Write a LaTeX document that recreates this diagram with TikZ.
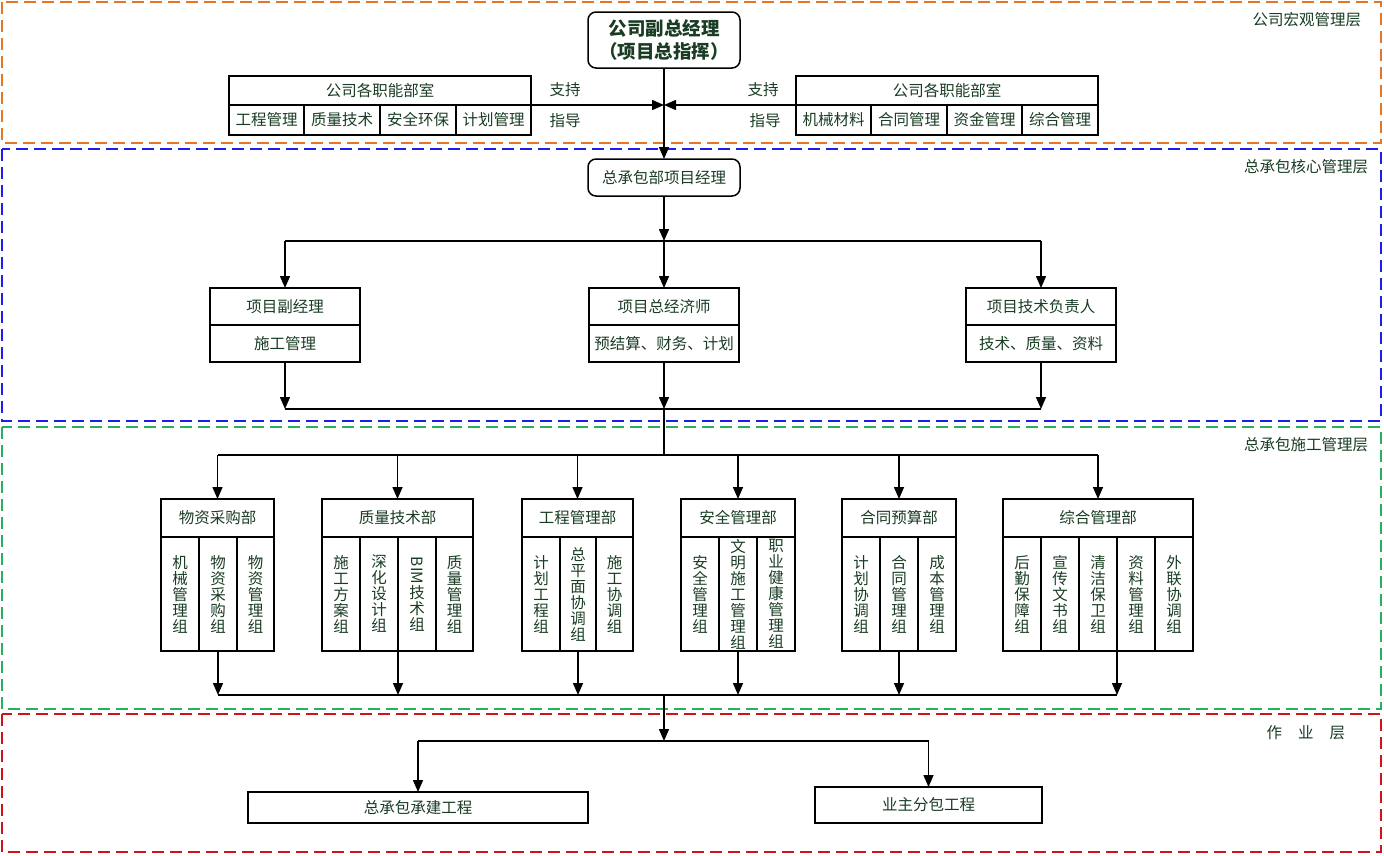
\documentclass[tikz,border=0pt]{standalone}
\usepackage{graphicx}
\usepackage{fontspec}
\setmainfont{Noto Sans CJK SC}
\usetikzlibrary{arrows.meta}
\definecolor{txt}{RGB}{25,60,35}
\definecolor{lorange}{RGB}{228,118,40}
\definecolor{lblue}{RGB}{30,30,235}
\definecolor{lgreen}{RGB}{40,175,95}
\definecolor{lred}{RGB}{205,20,25}
\newcommand\myfs{\fontsize{15.5}{16}\selectfont}
\newcommand\mytitlefs{\fontsize{18.5}{23}\selectfont}
\begin{document}
\begin{tikzpicture}[x=1pt,y=-1pt,
  every node/.style={text=txt, font=\myfs, inner sep=0pt, outer sep=0pt},
  box/.style={draw=black, line width=1.5pt, anchor=north west, align=center},
  rbox/.style={box, rounded corners=8pt},
  hdr/.style={box, minimum height=38pt},
  col/.style={box, minimum width=38pt, minimum height=114pt},
  conn/.style={draw=black, line width=1.5pt, -{Triangle[length=12pt,width=10pt]}},
  bus/.style={draw=black, line width=1.5pt},
  layer/.style={line width=2pt, dash pattern=on 12pt off 6pt},
  lab/.style={anchor=east}]
\useasboundingbox (0,0) rectangle (1384,855);
% layers
\draw[layer, lorange] (2,2) rectangle (1381,143);
\draw[layer, lblue] (2,149) rectangle (1381,421);
\draw[layer, lgreen] (2,427) rectangle (1381,709);
\draw[layer, lred] (2,714) rectangle (1381,852);
\node[lab] (L1) at (1361,20) {公司宏观管理层};
\node[lab] (L2) at (1368,167) {总承包核心管理层};
\node[lab] (L3) at (1368,445) {总承包施工管理层};
\node[lab] (L4) at (1345,733) {作\hspace{16pt}业\hspace{16pt}层};
% top
\node[rbox, minimum width=152pt, minimum height=56pt, font=\bfseries\mytitlefs] (gm) at (588,12) {公司副总经理\\（项目总指挥）};
\node[box, minimum width=302pt, minimum height=29pt] (lh) at (229,76) {公司各职能部室};
\node[box, minimum width=75pt, minimum height=30pt] (l1) at (229,105) {工程管理};
\node[box, minimum width=76pt, minimum height=30pt] (l2) at (304,105) {质量技术};
\node[box, minimum width=76pt, minimum height=30pt] (l3) at (380,105) {安全环保};
\node[box, minimum width=75pt, minimum height=30pt] (l4) at (456,105) {计划管理};
\node[box, minimum width=302pt, minimum height=29pt] (rh) at (796,76) {公司各职能部室};
\node[box, minimum width=75pt, minimum height=30pt] (r1) at (796,105) {机械材料};
\node[box, minimum width=76pt, minimum height=30pt] (r2) at (871,105) {合同管理};
\node[box, minimum width=75pt, minimum height=30pt] (r3) at (947,105) {资金管理};
\node[box, minimum width=76pt, minimum height=30pt] (r4) at (1022,105) {综合管理};
\node (s1) at (565,90) {支持};
\node (g1) at (565,121) {指导};
\node (s2) at (763,90) {支持};
\node (g2) at (765,121) {指导};
\coordinate (jn) at (664,105);
\draw[conn] (l4.north east) -- (jn);
\draw[conn] (r1.north west) -- (jn);
% core
\node[rbox, minimum width=152pt, minimum height=37pt] (pm) at (588,159) {总承包部项目经理};
\draw[conn] (gm.south) -- (pm.north);
\coordinate (a0) at (664,241);
\coordinate (aL) at (285,241);
\coordinate (aR) at (1041,241);
\draw[conn] (pm.south) -- (a0);
\draw[bus] (aL) -- (aR);
\node[box, minimum width=150pt, minimum height=37pt] (m1t) at (210,288) {项目副经理};
\node[box, minimum width=150pt, minimum height=37pt] (m1b) at (210,325) {施工管理};
\node[box, minimum width=150pt, minimum height=37pt] (m2t) at (589,288) {项目总经济师};
\node[box, minimum width=150pt, minimum height=37pt] (m2b) at (589,325) {预结算、财务、计划};
\node[box, minimum width=150pt, minimum height=37pt] (m3t) at (966,288) {项目技术负责人};
\node[box, minimum width=150pt, minimum height=37pt] (m3b) at (966,325) {技术、质量、资料};
\draw[conn] (aL) -- (m1t.north);
\draw[conn] (a0) -- (m2t.north);
\draw[conn] (aR) -- (m3t.north);
\coordinate (bL) at (285,409);
\coordinate (bM) at (664,409);
\coordinate (bR) at (1041,409);
\draw[conn] (m1b.south) -- (bL);
\draw[conn] (m2b.south) -- (bM);
\draw[conn] (m3b.south) -- (bR);
\draw[bus] (bL) -- (bR);
% construction
\coordinate (c0) at (664,455);
\coordinate (cL) at (218,455);
\coordinate (cR) at (1098,455);
\draw[bus] (bM) -- (c0);
\draw[bus] (cL) -- (cR);
\node[hdr, minimum width=113pt] (d1) at (161,499) {物资采购部};
\node[col] (d1a) at (161,537) {机\\械\\管\\理\\组};
\node[col] (d1b) at (199,537) {物\\资\\采\\购\\组};
\node[col, minimum width=37pt] (d1c) at (237,537) {物\\资\\管\\理\\组};
\node[hdr, minimum width=151pt] (d2) at (322,499) {质量技术部};
\node[col] (d2a) at (322,537) {施\\工\\方\\案\\组};
\node[col] (d2b) at (360,537) {深\\化\\设\\计\\组};
\node[col] (d2c) at (398,537) {\rotatebox{-90}{BIM}\\技\\术\\组};
\node[col, minimum width=37pt] (d2d) at (436,537) {质\\量\\管\\理\\组};
\node[hdr, minimum width=111pt] (d3) at (522,499) {工程管理部};
\node[col] (d3a) at (522,537) {计\\划\\工\\程\\组};
\node[col, minimum width=36pt] (d3b) at (560,537) {总\\平\\面\\协\\调\\组};
\node[col, minimum width=37pt] (d3c) at (596,537) {施\\工\\协\\调\\组};
\node[hdr, minimum width=114pt] (d4) at (681,499) {安全管理部};
\node[col] (d4a) at (681,537) {安\\全\\管\\理\\组};
\node[col] (d4b) at (719,537) {文\\明\\施\\工\\管\\理\\组};
\node[col] (d4c) at (757,537) {职\\业\\健\\康\\管\\理\\组};
\node[hdr, minimum width=114pt] (d5) at (842,499) {合同预算部};
\node[col] (d5a) at (842,537) {计\\划\\协\\调\\组};
\node[col] (d5b) at (880,537) {合\\同\\管\\理\\组};
\node[col] (d5c) at (918,537) {成\\本\\管\\理\\组};
\node[hdr, minimum width=190pt] (d6) at (1003,499) {综合管理部};
\node[col] (d6a) at (1003,537) {后\\勤\\保\\障\\组};
\node[col] (d6b) at (1041,537) {宣\\传\\文\\书\\组};
\node[col] (d6c) at (1079,537) {清\\洁\\保\\卫\\组};
\node[col] (d6d) at (1117,537) {资\\料\\管\\理\\组};
\node[col] (d6e) at (1155,537) {外\\联\\协\\调\\组};
\foreach \d in {d1,d2,d3,d4,d5,d6}{
  \draw[conn] (\d.north |- c0) -- (\d.north);
}
\coordinate (e0) at (664,695);
\draw[conn] (d1b.south) -- (d1b.south |- e0);
\draw[conn] (d2c.south west) -- (d2c.south west |- e0);
\draw[conn] (d3b.south) -- (d3b.south |- e0);
\draw[conn] (d4b.south) -- (d4b.south |- e0);
\draw[conn] (d5b.south) -- (d5b.south |- e0);
\draw[conn] (d6d.south west) -- (d6d.south west |- e0);
\draw[bus] (d1b.south |- e0) -- (d6d.south west |- e0);
% work layer
\coordinate (f0) at (664,741);
\draw[conn] (e0) -- (f0);
\node[box, minimum width=340pt, minimum height=31pt] (o1) at (248,792) {总承包承建工程};
\node[box, minimum width=227pt, minimum height=36pt] (o2) at (815,787) {业主分包工程};
\draw[bus] (o1.north |- f0) -- (o2.north |- f0);
\draw[conn] (o1.north |- f0) -- (o1.north);
\draw[conn] (o2.north |- f0) -- (o2.north);
\end{tikzpicture}
\end{document}
